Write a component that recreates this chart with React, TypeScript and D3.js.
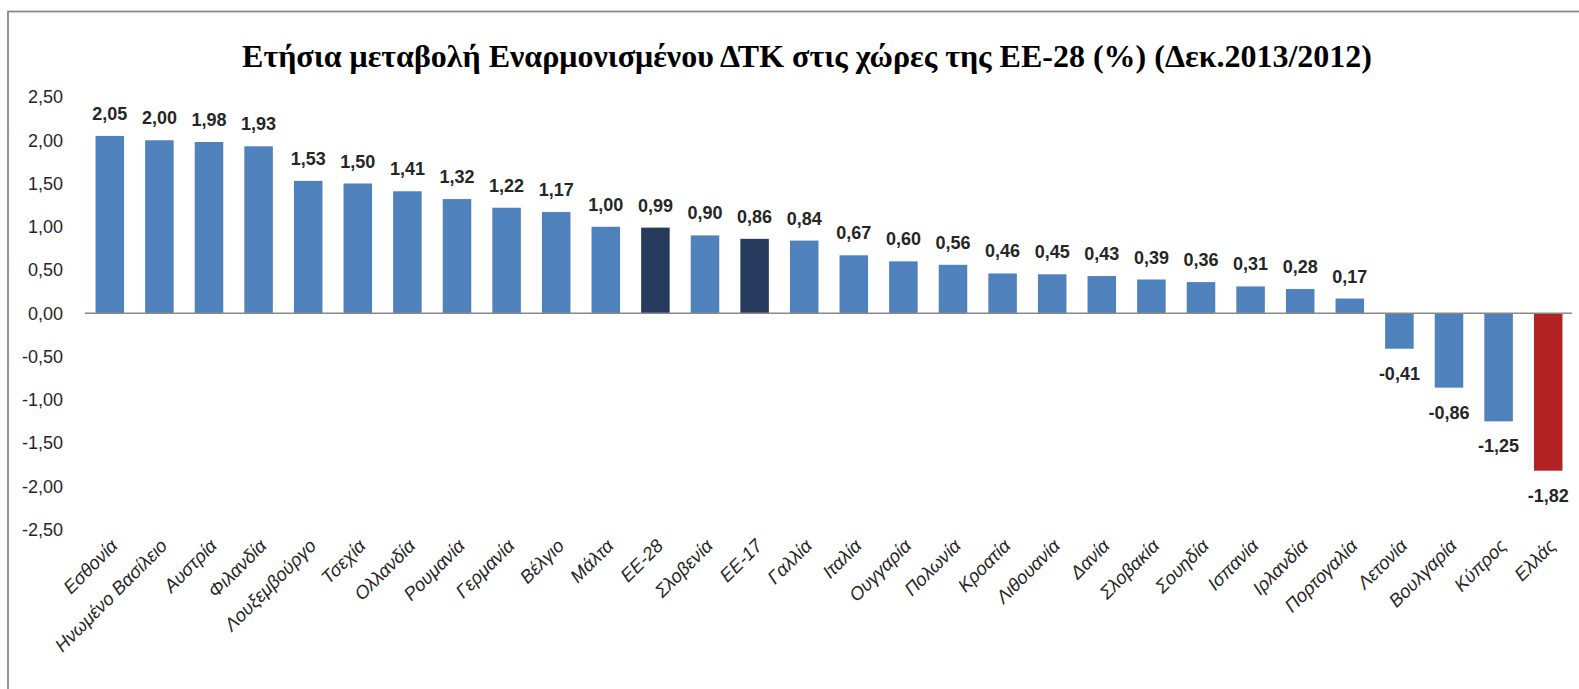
import React from 'react';
import * as d3 from 'd3';

const countries = [
  'Εσθονία', 'Ηνωμένο Βασίλειο', 'Αυστρία', 'Φιλανδία', 'Λουξεμβούργο', 'Τσεχία',
  'Ολλανδία', 'Ρουμανία', 'Γερμανία', 'Βέλγιο', 'Μάλτα', 'ΕΕ-28', 'Σλοβενία', 'ΕΕ-17',
  'Γαλλία', 'Ιταλία', 'Ουγγαρία', 'Πολωνία', 'Κροατία', 'Λιθουανία', 'Δανία', 'Σλοβακία',
  'Σουηδία', 'Ισπανία', 'Ιρλανδία', 'Πορτογαλία', 'Λετονία', 'Βουλγαρία', 'Κύπρος', 'Ελλάς',
];
const values = [
  2.05, 2.0, 1.98, 1.93, 1.53, 1.5, 1.41, 1.32, 1.22, 1.17, 1.0, 0.99, 0.9, 0.86, 0.84,
  0.67, 0.6, 0.56, 0.46, 0.45, 0.43, 0.39, 0.36, 0.31, 0.28, 0.17, -0.41, -0.86, -1.25, -1.82,
];
const aggregates = ['ΕΕ-28', 'ΕΕ-17'];
const highlight = ['Ελλάς'];
const yDomain = [-2.5, 2.5];

const title = 'Ετήσια μεταβολή Εναρμονισμένου ΔΤΚ στις χώρες της ΕΕ-28 (%) (Δεκ.2013/2012)';

const W = 1579;
const H = 689;

const locale = d3.formatLocale({
  decimal: ',',
  thousands: '.',
  grouping: [3],
  currency: ['', '€'],
  minus: '-',
});
const fmt = locale.format('.2f');

const App = () => {
  const x = d3.scaleBand<string>()
    .domain(countries)
    .range([85, 1573])
    .paddingInner(0.425)
    .paddingOuter(0.2125);

  const y = d3.scaleLinear().domain(yDomain).range([529.5, 97]);
  const ticks = y.ticks(10);

  const color = (c: string) => {
    if (highlight.includes(c)) return '#B22326';
    if (aggregates.includes(c)) return '#263A5E';
    return '#4F81BD';
  };

  const sans = "'Liberation Sans', Arial, sans-serif";

  return (
    <svg width={W} height={H} style={{ position: 'absolute', left: 0, top: 0, display: 'block' }}>
      <rect x={0} y={0} width={W} height={H} fill="#fff" />
      <rect x={8} y={11.5} width={W + 50} height={H + 50} fill="none" stroke="#898989" strokeWidth={1.8} />

      <text
        x={807}
        y={67}
        textAnchor="middle"
        fontFamily="'Liberation Serif', 'Times New Roman', serif"
        fontWeight="bold"
        fontSize={32}
        fill="#000"
      >
        {title}
      </text>

      {ticks.map((t) => (
        <text
          key={t}
          x={63}
          y={y(t)}
          dy="0.35em"
          textAnchor="end"
          fontFamily={sans}
          fontSize={18}
          fill="#262626"
        >
          {fmt(t)}
        </text>
      ))}

      {countries.map((c, i) => {
        const v = values[i];
        const x0 = x(c)!;
        const top = y(Math.max(0, v));
        const h = Math.abs(y(v) - y(0));
        const cx = x0 + x.bandwidth() / 2;
        return (
          <g key={c}>
            <rect x={x0} y={top} width={x.bandwidth()} height={h} fill={color(c)} />
            <text
              x={cx}
              y={v >= 0 ? y(v) - 16 : y(v) + 31}
              textAnchor="middle"
              fontFamily={sans}
              fontWeight="bold"
              fontSize={18}
              fill="#262626"
            >
              {fmt(v)}
            </text>
            <text
              transform={`translate(${cx + 9},${547}) rotate(-45)`}
              textAnchor="end"
              fontFamily={sans}
              fontStyle="italic"
              fontSize={18.5}
              fill="#262626"
            >
              {c}
            </text>
          </g>
        );
      })}

      <line x1={85} x2={1572} y1={y(0)} y2={y(0)} stroke="#898989" strokeWidth={1.5} />
    </svg>
  );
};

export default App;
